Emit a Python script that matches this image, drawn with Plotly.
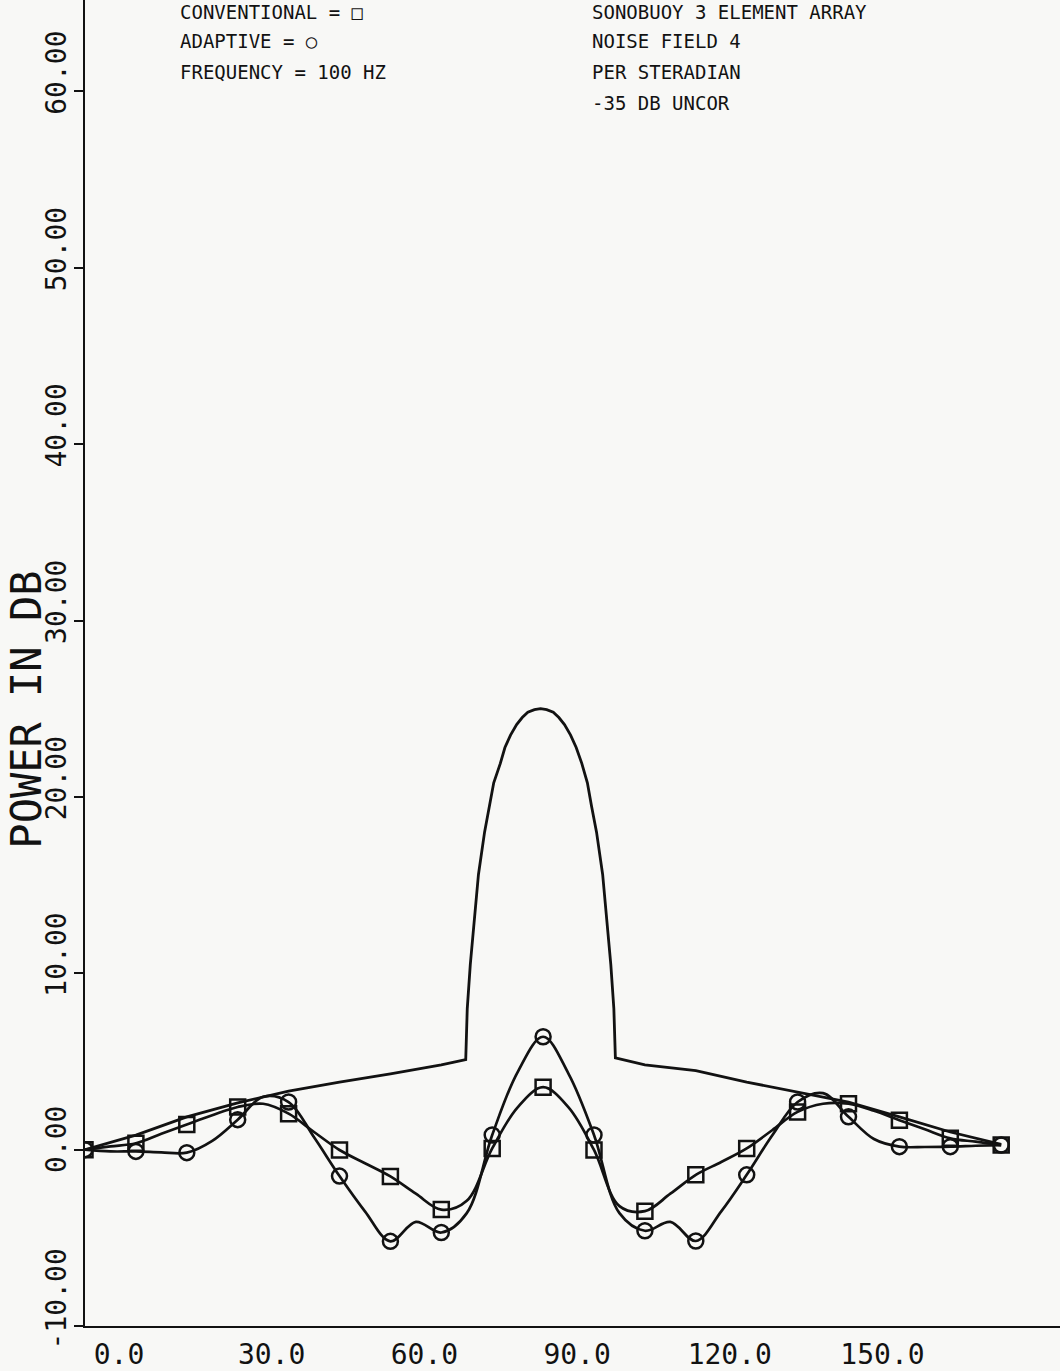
import plotly.graph_objects as go

# ---------------- data ----------------
# top (unmarked) curve: noise field, angle in degrees vs power in dB
field_angle = [0, 10, 20, 30, 40, 50, 60, 70, 74.8,
               75.1, 75.7, 76.3, 77.3, 78.5, 79.4, 80.3, 81.6, 82.5, 83.6, 84.8, 85.9, 87.0,
               88.3, 89.5, 90.7, 92.0, 93.1, 94.2, 95.4, 96.5, 97.6, 98.7, 99.5, 100.5,
               101.7, 102.7, 103.3, 103.9, 104.2,
               110, 120, 130, 140, 150, 160, 170, 180]
field_db = [0.0, 0.82, 1.86, 2.65, 3.32, 3.83, 4.29, 4.8, 5.1,
            8.0, 10.5, 12.5, 15.6, 18.0, 19.5, 20.8, 21.9, 22.8, 23.5, 24.1, 24.5, 24.8,
            24.95, 25.0, 24.95, 24.8, 24.5, 24.1, 23.5, 22.8, 21.9, 20.8, 19.5, 18.0,
            15.6, 12.5, 10.5, 8.0, 5.2,
            4.8, 4.48, 3.83, 3.26, 2.7, 1.86, 1.0, 0.3]

# conventional (square) and adaptive (circle) responses, 5 degree steps
angles = [0, 5, 10, 15, 20, 25, 30, 35, 40, 45, 50, 55, 60, 65, 70, 75, 80, 85, 90,
          95, 100, 105, 110, 115, 120, 125, 130, 135, 140, 145, 150, 155, 160, 165, 170, 175, 180]
conventional_db = [0.0, 0.18, 0.36, 0.9, 1.43, 1.95, 2.42, 2.6, 2.04, 1.0, -0.02, -0.77, -1.52,
                   -2.5, -3.4, -2.9, 0.07, 2.4, 3.54, 2.4, -0.02, -3.2, -3.49, -2.5, -1.43,
                   -0.7, 0.07, 1.1, 2.14, 2.6, 2.6, 2.2, 1.67, 1.15, 0.64, 0.45, 0.26]
adaptive_db = [0.0, -0.1, -0.1, -0.15, -0.17, 0.5, 1.7, 3.0, 2.7, 0.7, -1.5, -3.5, -5.2,
               -4.1, -4.7, -3.6, 0.83, 4.4, 6.4, 4.3, 0.83, -3.6, -4.6, -4.1, -5.18,
               -3.5, -1.43, 0.8, 2.7, 3.2, 1.86, 0.6, 0.17, 0.15, 0.17, 0.22, 0.26]

x_tickvals = [0, 30, 60, 90, 120, 150]
x_ticktext = ["0.0", "30.0", "60.0", "90.0", "120.0", "150.0"]
y_tickvals = [-10, 0, 10, 20, 30, 40, 50, 60]
y_ticktext = ["-10.00", "0.00", "10.00", "20.00", "30.00", "40.00", "50.00", "60.00"]

left_notes = ["CONVENTIONAL = \u25a1", "ADAPTIVE = \u25cb", "FREQUENCY = 100 HZ"]
right_notes = ["SONOBUOY 3 ELEMENT ARRAY", "NOISE FIELD 4", "PER STERADIAN", "-35 DB UNCOR"]

# ---------------- figure ----------------
INK = "#121212"
BG = "#f8f8f6"
MONO = "DejaVu Sans Mono, Liberation Mono, monospace"
NBSP = "\u00a0"

W, H = 1060, 1371
ML, MR, MT, MB = 85, 0, 0, 35
PW, PH = W - ML - MR, H - MT - MB

fig = go.Figure()
fig.add_trace(go.Scatter(x=field_angle, y=field_db, mode="lines",
                         line=dict(color=INK, width=2.8), showlegend=False, hoverinfo="skip"))
fig.add_trace(go.Scatter(x=angles, y=conventional_db, mode="lines",
                         line=dict(color=INK, width=2.7, shape="spline", smoothing=1.0),
                         showlegend=False))
fig.add_trace(go.Scatter(x=angles, y=adaptive_db, mode="lines",
                         line=dict(color=INK, width=2.7, shape="spline", smoothing=1.0),
                         showlegend=False))
fig.add_trace(go.Scatter(x=angles[::2], y=conventional_db[::2], mode="markers",
                         marker=dict(symbol="square-open", size=15, color=INK,
                                     line=dict(color=INK, width=2.5)),
                         showlegend=False))
fig.add_trace(go.Scatter(x=angles[::2], y=adaptive_db[::2], mode="markers",
                         marker=dict(symbol="circle-open", size=15, color=INK,
                                     line=dict(color=INK, width=2.5)),
                         showlegend=False))


def px_to_paper(px, py):
    return (px - ML) / PW, (H - MB - py) / PH


note_rows = [12, 41, 72.5, 104]
annotations = []
for i, t in enumerate(left_notes):
    xp, yp = px_to_paper(178, note_rows[i])
    annotations.append(dict(text=t, x=xp, y=yp, xref="paper", yref="paper",
                            xanchor="left", yanchor="middle", showarrow=False,
                            font=dict(family=MONO, size=19, color=INK)))
for i, t in enumerate(right_notes):
    xp, yp = px_to_paper(590, note_rows[i])
    annotations.append(dict(text=t, x=xp, y=yp, xref="paper", yref="paper",
                            xanchor="left", yanchor="middle", showarrow=False,
                            font=dict(family=MONO, size=19, color=INK)))
xp, yp = px_to_paper(27, 715)
annotations.append(dict(text="POWER IN DB", x=xp, y=yp, xref="paper", yref="paper",
                        xanchor="center", yanchor="middle", showarrow=False, textangle=-90,
                        font=dict(family=MONO, size=42, color=INK)))

# pad y labels to equal length so that each starts at the same offset from its tick
ylen = max(len(t) for t in y_ticktext)
y_ticktext_padded = [t + NBSP * (ylen - len(t)) for t in y_ticktext]

fig.update_layout(
    width=W, height=H,
    margin=dict(l=ML, r=MR, t=MT, b=MB),
    paper_bgcolor=BG, plot_bgcolor=BG,
    annotations=annotations,
    xaxis=dict(range=[0, PW / 5.09], tickvals=x_tickvals, ticktext=x_ticktext,
               showline=True, linecolor=INK, linewidth=2.2, ticks="", showgrid=False,
               zeroline=False, tickfont=dict(family=MONO, size=28, color=INK),
               ticklabelshift=34, ticklabelstandoff=2),
    yaxis=dict(range=[-10, -10 + PH / 17.77], tickvals=y_tickvals, ticktext=y_ticktext_padded,
               showline=True, linecolor=INK, linewidth=2.2, ticks="outside", ticklen=9,
               tickwidth=2, tickcolor=INK, showgrid=False, zeroline=False, tickangle=-90,
               tickfont=dict(family=MONO, size=28, color=INK), ticklabelshift=-23,
               ticklabelstandoff=-3),
)

fig.write_html("out.html", config={"displayModeBar": False},
               post_script="document.body.style.margin='0px';")
